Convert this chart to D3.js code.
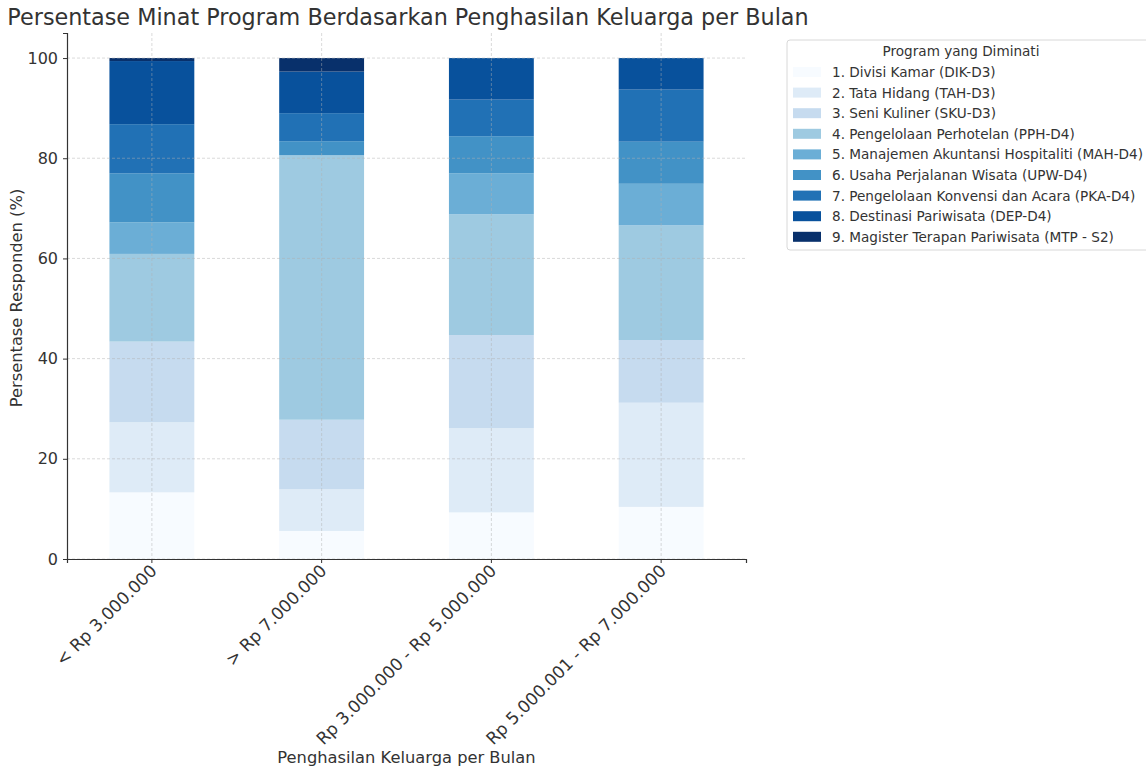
<!DOCTYPE html>
<html>
<head>
<meta charset="utf-8">
<script src="https://cdn.jsdelivr.net/npm/d3@7"></script>
<style>
	body { margin: 0; background: #fff; }
	svg { font-family: "DejaVu Sans", sans-serif; }
</style>
</head>
<body>
<svg id="chart" width="1146" height="767"></svg>
<script>
// income groups (x axis)
const incomeGroups = ["< Rp 3.000.000", "> Rp 7.000.000", "Rp 3.000.000 - Rp 5.000.000", "Rp 5.000.001 - Rp 7.000.000"];

// programs (stack order, bottom to top)
const programs = [
	"1. Divisi Kamar (DIK-D3)",
	"2. Tata Hidang (TAH-D3)",
	"3. Seni Kuliner (SKU-D3)",
	"4. Pengelolaan Perhotelan (PPH-D4)",
	"5. Manajemen Akuntansi Hospitaliti (MAH-D4)",
	"6. Usaha Perjalanan Wisata (UPW-D4)",
	"7. Pengelolaan Konvensi dan Acara (PKA-D4)",
	"8. Destinasi Pariwisata (DEP-D4)",
	"9. Magister Terapan Pariwisata (MTP - S2)"
];

// percentage per program, one value per income group
const pctDIK = [13.3, 5.6, 9.3, 10.4];
const pctTAH = [14.0, 8.3, 16.8, 20.8];
const pctSKU = [16.1, 13.9, 18.6, 12.5];
const pctPPH = [17.5, 52.8, 24.1, 22.9];
const pctMAH = [6.3, 0.0, 8.2, 8.3];
const pctUPW = [9.8, 2.8, 7.4, 8.4];
const pctPKA = [9.8, 5.6, 7.3, 10.4];
const pctDEP = [12.6, 8.3, 8.3, 6.3];
const pctMTP = [0.6, 2.7, 0.0, 0.0];

const yTicks = [0, 20, 40, 60, 80, 100];
const colors = ["#f7fbff", "#deebf7", "#c6dbef", "#9ecae1", "#6baed6", "#4292c6", "#2171b5", "#08519c", "#08306b"];

const series = [pctDIK, pctTAH, pctSKU, pctPPH, pctMAH, pctUPW, pctPKA, pctDEP, pctMTP];
const rows = incomeGroups.map((g, i) => {
	const r = { group: g };
	programs.forEach((p, j) => r[p] = series[j][i]);
	return r;
});

const svg = d3.select("#chart");
const margin = { left: 67, right: 400, top: 33, bottom: 208 };
const W = 1146, H = 767;

const x = d3.scaleBand()
	.domain(incomeGroups)
	.range([margin.left, W - margin.right])
	.paddingInner(0.5)
	.paddingOuter(0.25);

const y = d3.scaleLinear()
	.domain([0, 105])
	.range([H - margin.bottom, margin.top]);

const stacked = d3.stack().keys(programs)(rows);

// bars
svg.append("g")
	.selectAll("g")
	.data(stacked)
	.join("g")
	.attr("fill", (d, i) => colors[i])
	.selectAll("rect")
	.data(d => d)
	.join("rect")
	.attr("x", d => x(d.data.group))
	.attr("width", x.bandwidth())
	.attr("y", d => y(d[1]))
	.attr("height", d => y(d[0]) - y(d[1]));

// grid, drawn over the bars
const grid = svg.append("g")
	.attr("stroke", "#b0b0b0")
	.attr("stroke-opacity", 0.6)
	.attr("stroke-dasharray", "3,2")
	.attr("stroke-width", 0.8);
grid.selectAll("line.h")
	.data(yTicks)
	.join("line")
	.attr("class", "h")
	.attr("x1", margin.left).attr("x2", W - margin.right)
	.attr("y1", d => y(d)).attr("y2", d => y(d));
grid.selectAll("line.v")
	.data(incomeGroups)
	.join("line")
	.attr("class", "v")
	.attr("x1", d => x(d) + x.bandwidth() / 2).attr("x2", d => x(d) + x.bandwidth() / 2)
	.attr("y1", margin.top).attr("y2", H - margin.bottom);

// axes
const yAxis = svg.append("g")
	.attr("transform", `translate(${margin.left},0)`)
	.call(d3.axisLeft(y).tickValues(yTicks).tickSize(4).tickPadding(5));
const xAxis = svg.append("g")
	.attr("transform", `translate(0,${H - margin.bottom})`)
	.call(d3.axisBottom(x).tickSize(4).tickPadding(6));

[yAxis, xAxis].forEach(a => {
	a.select(".domain").attr("stroke", "#333").attr("stroke-width", 1.2);
	a.selectAll(".tick line").attr("stroke", "#333");
	a.selectAll("text").attr("fill", "#333").style("font-size", "16px").style("font-family", "DejaVu Sans");
});
xAxis.selectAll(".tick text")
	.style("font-size", "17px")
	.attr("text-anchor", "end")
	.attr("dy", "0.35em")
	.attr("transform", "translate(-1,3) rotate(-45)")
	.attr("x", -2).attr("y", 6);

// labels
svg.append("text")
	.attr("x", 408)
	.attr("y", 25)
	.attr("text-anchor", "middle")
	.attr("fill", "#333")
	.style("font-size", "22.3px")
	.text("Persentase Minat Program Berdasarkan Penghasilan Keluarga per Bulan");

svg.append("text")
	.attr("x", (margin.left + W - margin.right) / 2)
	.attr("y", 763)
	.attr("text-anchor", "middle")
	.attr("fill", "#333")
	.style("font-size", "16.3px")
	.text("Penghasilan Keluarga per Bulan");

svg.append("text")
	.attr("transform", `translate(22,${(margin.top + H - margin.bottom) / 2 + 2}) rotate(-90)`)
	.attr("text-anchor", "middle")
	.attr("fill", "#333")
	.style("font-size", "16.3px")
	.text("Persentase Responden (%)");

// legend
const legend = svg.append("g").attr("transform", "translate(787,40)");
legend.append("rect")
	.attr("width", 362).attr("height", 210)
	.attr("rx", 3)
	.attr("fill", "#fff")
	.attr("stroke", "#d8d8d8");
legend.append("text")
	.attr("x", 174).attr("y", 16)
	.attr("text-anchor", "middle")
	.attr("fill", "#333")
	.style("font-size", "13.6px")
	.text("Program yang Diminati");
const items = legend.selectAll("g.item")
	.data(programs)
	.join("g")
	.attr("class", "item")
	.attr("transform", (d, i) => `translate(0,${32 + i * 20.6})`);
items.append("rect")
	.attr("x", 6).attr("y", -5)
	.attr("width", 28).attr("height", 10)
	.attr("fill", (d, i) => colors[i]);
items.append("text")
	.attr("x", 45).attr("y", 5)
	.attr("fill", "#333")
	.style("font-size", "13.6px")
	.text(d => d);
</script>
</body>
</html>
